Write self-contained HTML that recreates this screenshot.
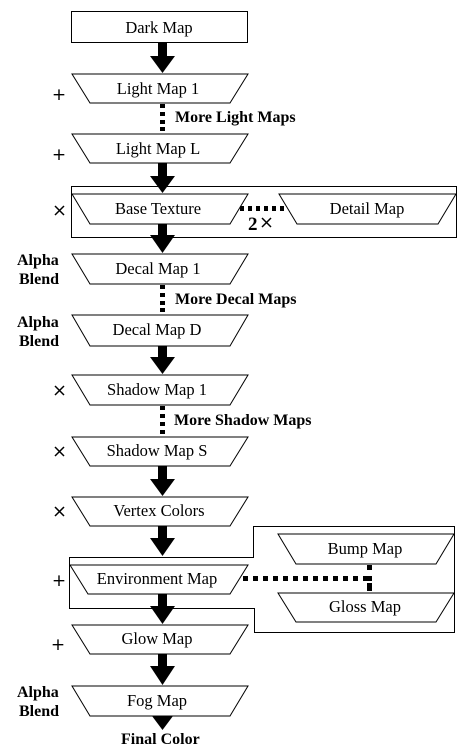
<!DOCTYPE html>
<html><head><meta charset="utf-8"><style>body{margin:0;background:#fff}svg{display:block}</style></head><body>
<svg width="458" height="754" viewBox="0 0 458 754" xmlns="http://www.w3.org/2000/svg" font-family="Liberation Serif, serif">
<g fill="none" stroke="#000" stroke-width="1">
<rect x="71.5" y="11.5" width="176" height="31"/>
<rect x="71.5" y="186.5" width="385" height="51"/>
<path d="M69.5 557.5 H253.5 V526.5 H454.5 V632.5 H254.5 V608.5 H69.5 Z"/>
</g>
<g fill="#fff" stroke="#000" stroke-width="1">
<path d="M72 74 H248 L230 103 H90 Z"/>
<path d="M72 134 H248 L230 163 H90 Z"/>
<path d="M72 194 H248 L230 224 H90 Z"/>
<path d="M279 194 H456 L438 224 H297 Z"/>
<path d="M72 254 H248 L230 284 H90 Z"/>
<path d="M72 315 H248 L230 346 H90 Z"/>
<path d="M72 375 H248 L230 405 H90 Z"/>
<path d="M72 437 H248 L230 466 H90 Z"/>
<path d="M72 497 H248 L230 526 H90 Z"/>
<path d="M70 565 H248 L230 594 H88 Z"/>
<path d="M278 534 H454 L436 564 H296 Z"/>
<path d="M278 593 H454 L436 622 H296 Z"/>
<path d="M72 625 H248 L230 654 H90 Z"/>
<path d="M72 686 H248 L230 716 H90 Z"/>
</g>
<g fill="#000">
<rect x="158" y="43" width="9" height="15"/><path d="M150 56 H175 L162.5 73 Z"/>
<rect x="158" y="163" width="9" height="15"/><path d="M150 176 H175 L162.5 193 Z"/>
<rect x="158" y="224" width="9" height="14"/><path d="M150 235 H175 L162.5 253 Z"/>
<rect x="158" y="346" width="9" height="13"/><path d="M150 357 H175 L162.5 374 Z"/>
<rect x="158" y="466" width="9" height="14"/><path d="M150 479 H175 L162.5 496 Z"/>
<rect x="158" y="526" width="9" height="14"/><path d="M150 538 H175 L162.5 556 Z"/>
<rect x="158" y="594" width="9" height="14"/><path d="M150 606 H175 L162.5 624 Z"/>
<rect x="158" y="654" width="9" height="14"/><path d="M150 666 H175 L162.5 685 Z"/>
<path d="M152 716 H173 L162.5 730 Z"/>
<rect x="160" y="104" width="5" height="4"/><rect x="160" y="112" width="5" height="4"/><rect x="160" y="120" width="5" height="4"/><rect x="160" y="127" width="5" height="4"/>
<rect x="160" y="285" width="5" height="4"/><rect x="160" y="293" width="5" height="4"/><rect x="160" y="301" width="5" height="4"/><rect x="160" y="308" width="5" height="4"/>
<rect x="160" y="406" width="5" height="4"/><rect x="160" y="414" width="5" height="4"/><rect x="160" y="422" width="5" height="4"/><rect x="160" y="430" width="5" height="4"/>
<rect x="240" y="206" width="4" height="5"/><rect x="248" y="206" width="4" height="5"/><rect x="256" y="206" width="4" height="5"/><rect x="264" y="206" width="4" height="5"/><rect x="272" y="206" width="4" height="5"/><rect x="280" y="206" width="4" height="5"/>
<rect x="243" y="576" width="5" height="5"/><rect x="253" y="576" width="5" height="5"/><rect x="263" y="576" width="5" height="5"/><rect x="273" y="576" width="5" height="5"/><rect x="283" y="576" width="5" height="5"/><rect x="293" y="576" width="5" height="5"/><rect x="303" y="576" width="5" height="5"/><rect x="313" y="576" width="5" height="5"/><rect x="323" y="576" width="5" height="5"/><rect x="333" y="576" width="5" height="5"/><rect x="343" y="576" width="5" height="5"/><rect x="353" y="576" width="5" height="5"/><rect x="363" y="576" width="5" height="5"/>
<rect x="367" y="565" width="5" height="5"/><rect x="367" y="583" width="5" height="8"/><rect x="367" y="576" width="5" height="5"/>
</g>
<g font-size="16.5" text-anchor="middle" fill="#000">
<text x="159" y="33">Dark Map</text>
<text x="158" y="94">Light Map 1</text>
<text x="158" y="154">Light Map L</text>
<text x="158" y="214">Base Texture</text>
<text x="367" y="214">Detail Map</text>
<text x="158" y="274">Decal Map 1</text>
<text x="157" y="335">Decal Map D</text>
<text x="157" y="395">Shadow Map 1</text>
<text x="157" y="456">Shadow Map S</text>
<text x="159" y="516">Vertex Colors</text>
<text x="157" y="584">Environment Map</text>
<text x="365" y="554">Bump Map</text>
<text x="365" y="612">Gloss Map</text>
<text x="157" y="644">Glow Map</text>
<text x="157" y="706">Fog Map</text>
</g>
<g font-size="16" font-weight="bold" fill="#000">
<text x="175" y="122">More Light Maps</text>
<text x="175" y="304">More Decal Maps</text>
<text x="174" y="425">More Shadow Maps</text>
<text x="121" y="744">Final Color</text>
<text x="17" y="265">Alpha</text><text x="19" y="284">Blend</text>
<text x="17" y="327">Alpha</text><text x="19" y="346">Blend</text>
<text x="17" y="697">Alpha</text><text x="19" y="716">Blend</text>
<text x="248" y="230" font-size="19">2</text>
</g>
<g font-family="DejaVu Sans, sans-serif" font-size="17" fill="#000" text-anchor="middle">
<text x="59" y="100">+</text>
<text x="59" y="160">+</text>
<text x="59" y="586">+</text>
<text x="58" y="650">+</text>
</g>
<g stroke="#000" stroke-width="1.5">
<path d="M55 206 L64 215 M64 206 L55 215"/>
<path d="M55 386 L64 395 M64 386 L55 395"/>
<path d="M55 447 L64 456 M64 447 L55 456"/>
<path d="M55 507 L64 516 M64 507 L55 516"/>
<path d="M262 218 L271 227 M271 218 L262 227"/>
</g>
</svg>
</body></html>
